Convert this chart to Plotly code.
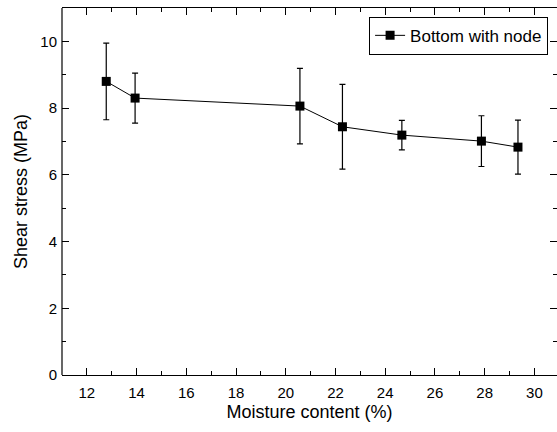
import plotly.graph_objects as go

# Moisture content (%) and measured shear stress (MPa) with standard deviation
moisture = [12.78, 13.94, 20.57, 22.28, 24.67, 27.87, 29.34]
shear_stress = [8.80, 8.30, 8.06, 7.44, 7.19, 7.01, 6.83]
shear_sd = [1.15, 0.75, 1.13, 1.27, 0.44, 0.76, 0.81]
series_name = "Bottom with node"

x_ticks = list(range(12, 31, 2))
y_ticks = list(range(0, 11, 2))

FONT = "Liberation Sans, Arial, sans-serif"

fig = go.Figure()
fig.add_trace(go.Scatter(
    x=moisture,
    y=shear_stress,
    mode="lines+markers",
    name=series_name,
    line=dict(color="black", width=1),
    marker=dict(symbol="square", size=9, color="black"),
    error_y=dict(type="data", array=shear_sd, visible=True,
                 color="black", thickness=1.2, width=3),
    showlegend=True,
))

axis_common = dict(
    ticks="inside",
    ticklen=7,
    tickwidth=1.2,
    tickcolor="black",
    mirror="ticks",
    showgrid=False,
    zeroline=False,
    linecolor="black",
    linewidth=1.2,
    tickfont=dict(family=FONT, size=15, color="black"),
    minor=dict(ticks="inside", ticklen=4, tickwidth=1.2, tickcolor="black", dtick=1),
)

fig.update_xaxes(
    range=[11, 30.91],
    tickmode="array", tickvals=x_ticks, ticktext=[str(v) for v in x_ticks],
    showline=True,
    title=dict(text="Moisture content (%)", font=dict(family=FONT, size=18, color="black"),
               standoff=5),
    ticklabelstandoff=4,
    **axis_common,
)
fig.update_yaxes(
    range=[0, 11],
    tickmode="array", tickvals=y_ticks, ticktext=[str(v) for v in y_ticks],
    showline=False,
    title=dict(text="Shear stress (MPa)", font=dict(family=FONT, size=18, color="black"),
               standoff=8),
    ticklabelstandoff=4,
    **axis_common,
)

# left frame edge (right side of the frame runs off the page)
fig.add_shape(type="line", xref="paper", yref="paper", x0=0, x1=0, y0=0, y1=1,
              line=dict(color="black", width=1.2))

fig.update_layout(
    width=557,
    height=432,
    margin=dict(l=62, r=0, t=8, b=57),
    paper_bgcolor="white",
    plot_bgcolor="white",
    font=dict(family=FONT, color="black"),
    legend=dict(
        x=0.982, y=0.976, xanchor="right", yanchor="top",
        bordercolor="black", borderwidth=1, bgcolor="white",
        font=dict(family=FONT, size=17, color="black"),
        tracegroupgap=0,
    ),
)

fig.write_html("out.html")
